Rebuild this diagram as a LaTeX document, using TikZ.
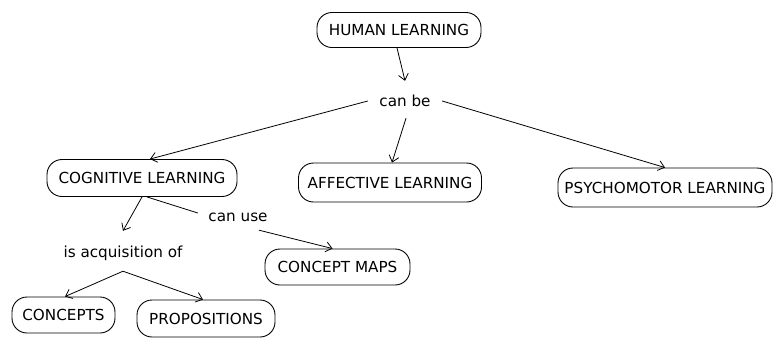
\documentclass[tikz,border=0pt]{standalone}
\usepackage{fontspec}
\setmainfont{DejaVu Sans}
\usetikzlibrary{arrows.meta}
\begin{document}
\begin{tikzpicture}[x=1pt,y=-1pt,
  concept/.style={draw, line width=0.9pt, rounded corners=15pt, minimum height=37pt, inner sep=0pt, font=\fontsize{15.2}{17}\selectfont},
  linkph/.style={inner sep=0pt, font=\fontsize{15.2}{17}\selectfont},
  conn/.style={line width=0.8pt},
  arr/.style={conn, -{Straight Barb[length=6pt,width=10pt]}}]
\useasboundingbox[fill=white] (0,0) rectangle (779,338);
% concepts
\node[concept, minimum width=164pt, minimum height=35pt] (human) at (399,30) {HUMAN LEARNING};
\node[concept, minimum width=190pt] (cognitive) at (142,178) {COGNITIVE LEARNING};
\node[concept, minimum width=183pt, minimum height=39pt] (affective) at (390,182.5) {AFFECTIVE LEARNING};
\node[concept, minimum width=214pt, minimum height=39pt] (psycho) at (665,187.5) {PSYCHOMOTOR LEARNING};
\node[concept, minimum width=145pt, minimum height=36pt] (cmaps) at (337.5,267) {CONCEPT MAPS};
\node[concept, minimum width=103pt, minimum height=36pt] (concepts) at (63.5,315) {CONCEPTS};
\node[concept, minimum width=138pt] (props) at (206,318.5) {PROPOSITIONS};
% linking phrases
\node[linkph, minimum width=74pt, minimum height=40pt] (canbe) at (405,101) {can be};
\node[linkph, minimum width=80pt, minimum height=26pt] (canuse) at (238,217) {can use};
\node[linkph, minimum width=120pt, minimum height=44pt] (acq) at (123,253) {is acquisition of};
% connectors
\draw[arr] ([xshift=-2pt]human.south) -- (canbe.north);
\draw[arr] (canbe.west) -- ([xshift=8pt]cognitive.north);
\draw[arr] ([xshift=1pt,yshift=3pt]canbe.south) -- ([xshift=2pt]affective.north);
\draw[arr] (canbe.east) -- ([xshift=0pt]psycho.north);
\draw[arr] (cognitive.south) -- (acq.north);
\draw[conn] ([xshift=5pt]cognitive.south) -- ([yshift=4pt]canuse.west);
\draw[arr] ([xshift=21pt]canuse.south) -- ([xshift=-5pt]cmaps.north);
\draw[arr] ([yshift=4pt]acq.south) -- ([xshift=1.5pt]concepts.north);
\draw[arr] ([yshift=4pt]acq.south) -- ([xshift=-3pt]props.north);
\end{tikzpicture}
\end{document}
